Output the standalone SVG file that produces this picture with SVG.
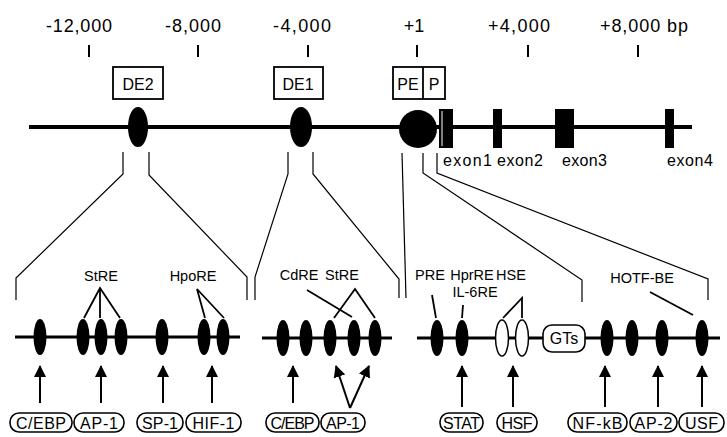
<svg xmlns="http://www.w3.org/2000/svg" width="727" height="437" viewBox="0 0 727 437">
<style>
text{font-family:"Liberation Sans",Arial,sans-serif;fill:#000}
.scale{font-size:18px;text-anchor:middle}
.box{font-size:16px;text-anchor:middle}
.lbl{font-size:14.5px;text-anchor:middle}
.pt{font-size:16px;text-anchor:middle}
.ex{font-size:16px}
.thin{fill:none;stroke:#000;stroke-width:1.2}
.bl{fill:none;stroke:#000;stroke-width:1.8}
.pill{fill:#fff;stroke:#000;stroke-width:1.6}
.arr{fill:none;stroke:#000;stroke-width:2;marker-end:url(#ah)}
</style>
<defs>
<marker id="ah" viewBox="0 0 12 12" refX="11" refY="6" markerWidth="12" markerHeight="12" markerUnits="userSpaceOnUse" orient="auto">
<path d="M0,0 L12,6 L0,12 Z" fill="#000"/>
</marker>
</defs>
<rect width="727" height="437" fill="#fff"/>

<g id="scale">
<text class="scale" x="79" y="32" textLength="66">-12,000</text>
<text class="scale" x="193" y="32" textLength="56">-8,000</text>
<text class="scale" x="302" y="32" textLength="58">-4,000</text>
<text class="scale" x="414" y="32">+1</text>
<text class="scale" x="519" y="32" textLength="62">+4,000</text>
<text x="600" y="32" style="font-size:18px" textLength="88">+8,000 bp</text>
<g stroke="#000" stroke-width="2">
<line x1="89" y1="45" x2="89" y2="57"/>
<line x1="198" y1="45" x2="198" y2="57"/>
<line x1="308" y1="45" x2="308" y2="57"/>
<line x1="417" y1="45" x2="417" y2="57"/>
<line x1="528" y1="45" x2="528" y2="57"/>
<line x1="638" y1="45" x2="638" y2="57"/>
</g>
</g>

<g id="gene">
<line x1="29" y1="127" x2="692" y2="127" stroke="#000" stroke-width="4"/>
<rect x="439" y="109" width="14" height="39" fill="#000"/>
<line x1="442" y1="111" x2="442" y2="146" stroke="#fff" stroke-width="1"/>
<rect x="493" y="109" width="9" height="39" fill="#000"/>
<rect x="555" y="109" width="19" height="39" fill="#000"/>
<rect x="665" y="109" width="9" height="39" fill="#000"/>
<text class="ex" x="443" y="166" textLength="49">exon1</text>
<text class="ex" x="497" y="166" textLength="46">exon2</text>
<text class="ex" x="562" y="166" textLength="45">exon3</text>
<text class="ex" x="667" y="166" textLength="46">exon4</text>
</g>

<g id="DE2">
<rect x="113" y="67" width="50" height="32" class="bl" fill="#fff"/>
<text class="box" x="138" y="90">DE2</text>
<ellipse cx="138" cy="127" rx="10" ry="20"/>
</g>
<g id="DE1">
<rect x="274" y="67" width="49" height="32" class="bl" fill="#fff"/>
<text class="box" x="298" y="90">DE1</text>
<ellipse cx="301" cy="127" rx="11" ry="20"/>
</g>
<g id="PEP">
<rect x="393" y="67" width="52" height="32" class="bl" fill="#fff"/>
<line x1="423" y1="67" x2="423" y2="99" stroke="#000" stroke-width="1.8"/>
<text class="box" x="408" y="90">PE</text>
<text class="box" x="434" y="90">P</text>
<circle cx="418" cy="129" r="19"/>
</g>

<g id="connectors">
<path class="thin" d="M123,152 V174 L16,278 V300"/>
<path class="thin" d="M149,152 V175 L247,277 V300"/>
<path class="thin" d="M288,152 V174 L255,277 V300"/>
<path class="thin" d="M313,152 V174 L399,279 V298"/>
<path class="thin" d="M402,153 L406,298"/>
<path class="thin" d="M423,153 V173 L582,280 V302"/>
<path class="thin" d="M437,153 V173 L708,279 V300"/>
</g>

<g id="groupDE2">
<line x1="15" y1="337" x2="240" y2="337" stroke="#000" stroke-width="3"/>
<ellipse cx="40" cy="337" rx="6.5" ry="18"/>
<ellipse cx="83" cy="337" rx="6.5" ry="18"/>
<ellipse cx="101" cy="337" rx="6.5" ry="18"/>
<ellipse cx="121" cy="337" rx="6.5" ry="18"/>
<ellipse cx="162" cy="337" rx="6.5" ry="18"/>
<ellipse cx="204" cy="337" rx="6.5" ry="18"/>
<ellipse cx="223" cy="337" rx="6.5" ry="18"/>
<text class="lbl" x="101" y="281">StRE</text>
<text class="lbl" x="193" y="281">HpoRE</text>
<path class="bl" d="M84,318 L100,288 L120,318 M100,288 V318"/>
<path class="bl" d="M205,318 L197,289 L224,318"/>
<path class="arr" d="M40,403 V366"/>
<path class="arr" d="M101,403 V366"/>
<path class="arr" d="M163,403 V366"/>
<path class="arr" d="M212,403 V366"/>
<rect class="pill" x="10" y="413" width="62" height="19" rx="9"/>
<rect class="pill" x="74" y="413" width="50" height="19" rx="9"/>
<rect class="pill" x="137" y="413" width="46" height="19" rx="9"/>
<rect class="pill" x="186" y="413" width="55" height="19" rx="9"/>
<text class="pt" x="41" y="428.5" textLength="50">C/EBP</text>
<text class="pt" x="99" y="428.5" textLength="38">AP-1</text>
<text class="pt" x="160" y="428.5" textLength="36">SP-1</text>
<text class="pt" x="213.5" y="428.5" textLength="42">HIF-1</text>
</g>

<g id="groupDE1">
<line x1="262" y1="338" x2="392" y2="338" stroke="#000" stroke-width="3"/>
<ellipse cx="283" cy="338" rx="6.5" ry="18"/>
<ellipse cx="306" cy="338" rx="6.5" ry="18"/>
<ellipse cx="330" cy="338" rx="6.5" ry="18"/>
<ellipse cx="354" cy="338" rx="6.5" ry="18"/>
<ellipse cx="375" cy="338" rx="6.5" ry="18"/>
<text class="lbl" x="299" y="280">CdRE</text>
<text class="lbl" x="342" y="280">StRE</text>
<path class="bl" d="M307,290 L352,317"/>
<path class="bl" d="M334,318 L355,289 L375,318"/>
<path class="arr" d="M293,403 V366"/>
<path class="arr" d="M350,408 L336,366"/>
<path class="arr" d="M350,408 L369,366"/>
<rect class="pill" x="266" y="413" width="53" height="19" rx="9"/>
<rect class="pill" x="321" y="413" width="44" height="19" rx="9"/>
<text class="pt" x="292.5" y="428.5" textLength="44">C/EBP</text>
<text class="pt" x="343" y="428.5" textLength="34">AP-1</text>
</g>

<g id="groupPE">
<line x1="417" y1="338" x2="720" y2="338" stroke="#000" stroke-width="3"/>
<ellipse cx="437" cy="338" rx="6.5" ry="18"/>
<ellipse cx="462" cy="338" rx="6.5" ry="18"/>
<ellipse cx="502" cy="338" rx="6.5" ry="18" fill="#fff" stroke="#000" stroke-width="1.5"/>
<ellipse cx="522" cy="338" rx="6.5" ry="18" fill="#fff" stroke="#000" stroke-width="1.5"/>
<rect class="pill" x="543" y="325" width="42" height="27" rx="9"/>
<text class="pt" x="564" y="344">GTs</text>
<ellipse cx="607" cy="338" rx="6.5" ry="18"/>
<ellipse cx="632" cy="338" rx="6.5" ry="18"/>
<ellipse cx="662" cy="338" rx="6.5" ry="18"/>
<ellipse cx="702" cy="338" rx="6.5" ry="18"/>
<text class="lbl" x="430" y="280">PRE</text>
<text class="lbl" x="472" y="280">HprRE</text>
<text class="lbl" x="475" y="297">IL-6RE</text>
<text class="lbl" x="511" y="280">HSE</text>
<text class="lbl" x="642" y="283">HOTF-BE</text>
<path class="bl" d="M432,295 L436,318"/>
<path class="bl" d="M463,305 L462,318"/>
<path class="bl" d="M503,318 L522,298 L522,318"/>
<path class="bl" d="M650,292 L693,315"/>
<path class="arr" d="M462,407 V366"/>
<path class="arr" d="M513,407 V366"/>
<path class="arr" d="M605,407 V366"/>
<path class="arr" d="M658,407 V366"/>
<path class="arr" d="M702,407 V366"/>
<rect class="pill" x="440" y="413" width="43" height="19" rx="9"/>
<rect class="pill" x="497" y="413" width="40" height="19" rx="9"/>
<rect class="pill" x="568" y="413" width="59" height="19" rx="9"/>
<rect class="pill" x="630" y="413" width="47" height="19" rx="9"/>
<rect class="pill" x="679" y="413" width="45" height="19" rx="9"/>
<text class="pt" x="461.5" y="428.5" textLength="37">STAT</text>
<text class="pt" x="517" y="428.5" textLength="31">HSF</text>
<text class="pt" x="597.5" y="428.5" textLength="50">NF-kB</text>
<text class="pt" x="653.5" y="428.5" textLength="38">AP-2</text>
<text class="pt" x="701.5" y="428.5" textLength="33">USF</text>
</g>
</svg>
